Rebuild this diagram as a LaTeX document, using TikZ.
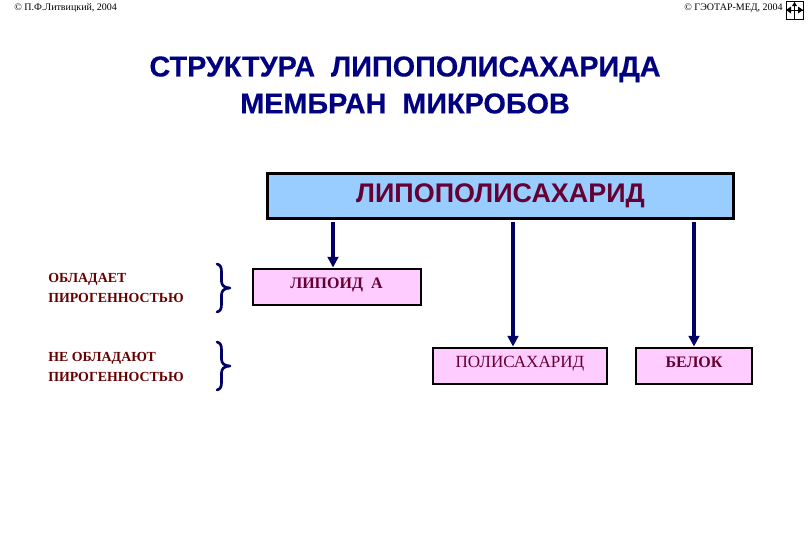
\documentclass[tikz,border=0pt]{standalone}
\usepackage{fontspec}
\setmainfont{Liberation Serif}
\newfontfamily\arialf{Liberation Sans}
\newfontfamily\arialheavy[FakeBold=0.4]{Liberation Sans Bold}
\usetikzlibrary{arrows.meta}
\definecolor{navy}{HTML}{000066}
\definecolor{titleblue}{HTML}{000080}
\definecolor{wine}{HTML}{660033}
\definecolor{darkred}{HTML}{660000}
\definecolor{skyb}{HTML}{99CCFF}
\definecolor{pinkb}{HTML}{FFCCFF}
\tikzset{
  pagefont/.style={font=\fontsize{7.5}{10}\selectfont, text=black, inner sep=0pt},
  titletext/.style={font=\arialheavy\fontsize{21.6}{27.7}\selectfont, text=titleblue, inner sep=0pt, align=center},
  mainbox/.style={draw=black, line width=2.2pt, fill=skyb, minimum width=349.5pt, minimum height=33.5pt, inner sep=0pt, text=wine, font=\arialf\bfseries\fontsize{20.2}{24}\selectfont},
  partbox/.style={draw=black, line width=1.5pt, fill=pinkb, inner sep=0pt, minimum height=27pt, text height=8pt, text depth=4.5pt, text=wine, font=\fontsize{12}{14}\selectfont},
  sidetext/.style={font=\bfseries\fontsize{10.4}{15}\selectfont, text=darkred, inner sep=0pt, align=left, anchor=west},
  flow/.style={draw=navy, line width=2.4pt, -{Triangle[length=8pt,width=8pt]}},
  bracket/.style={draw=navy, line width=2pt, line cap=round, line join=round}
}
\begin{document}
\begin{tikzpicture}[x=0.75pt,y=-0.75pt]
\useasboundingbox (0,0) rectangle (810,540);
\node[pagefont, anchor=west] (cr1) at (14,8) {© П.Ф.Литвицкий, 2004};
\node[pagefont, anchor=east] (cr2) at (783,8) {© ГЭОТАР-МЕД, 2004};
\node[titletext] (title) at (405,85) {СТРУКТУРА\ \ ЛИПОПОЛИСАХАРИДА\\МЕМБРАН\ \ МИКРОБОВ};
\node[mainbox] (main) at (500.5,196) {ЛИПОПОЛИСАХАРИД};
\node[partbox, minimum width=126pt] (lip) at (336.5,286.5) {\bfseries ЛИПОИД\ \ А};
\node[partbox, minimum width=131pt] (poly) at (520,365.5) {\fontsize{12.8}{14}\selectfont ПОЛИСАХАРИД};
\node[partbox, minimum width=87.5pt] (prot) at (694,365.5) {\bfseries БЕЛОК};
\node[sidetext] (s1) at (48,288) {ОБЛАДАЕТ\\ПИРОГЕННОСТЬЮ};
\node[sidetext] (s2) at (48,367) {НЕ ОБЛАДАЮТ\\ПИРОГЕННОСТЬЮ};
\coordinate (a1) at (333,222);
\coordinate (a2) at (513,222);
\coordinate (a3) at (694,222);
\draw[flow] (a1) -- (a1 |- lip.north);
\draw[flow] (a2) -- (a2 |- poly.north);
\draw[flow] (a3) -- (a3 |- prot.north);
\draw[bracket] (217,264) .. controls (220.5,265) and (221.5,267) .. (221.5,272) -- (221.5,281) .. controls (221.5,285) and (224,288) .. (230,288) .. controls (224,288) and (221.5,291) .. (221.5,295) -- (221.5,304) .. controls (221.5,309) and (220.5,311) .. (217,312);
\draw[bracket] (217,342) .. controls (220.5,343) and (221.5,345) .. (221.5,350) -- (221.5,359) .. controls (221.5,363) and (224,366) .. (230,366) .. controls (224,366) and (221.5,369) .. (221.5,373) -- (221.5,382) .. controls (221.5,387) and (220.5,389) .. (217,390);
% corner emblem
\draw[black, line width=0.5pt] (786,1) rectangle (803,19);
\draw[black, line width=0.5pt] (794.5,1) -- (794.5,19) (786,10) -- (803,10);
\fill[black] (803,10) -- (798,6.5) -- (798,13.5) -- cycle;
\fill[black] (786,10) -- (791,6.5) -- (791,13.5) -- cycle;
\fill[black] (794.5,2) -- (792,6) -- (797,6) -- cycle;
\end{tikzpicture}
\end{document}
